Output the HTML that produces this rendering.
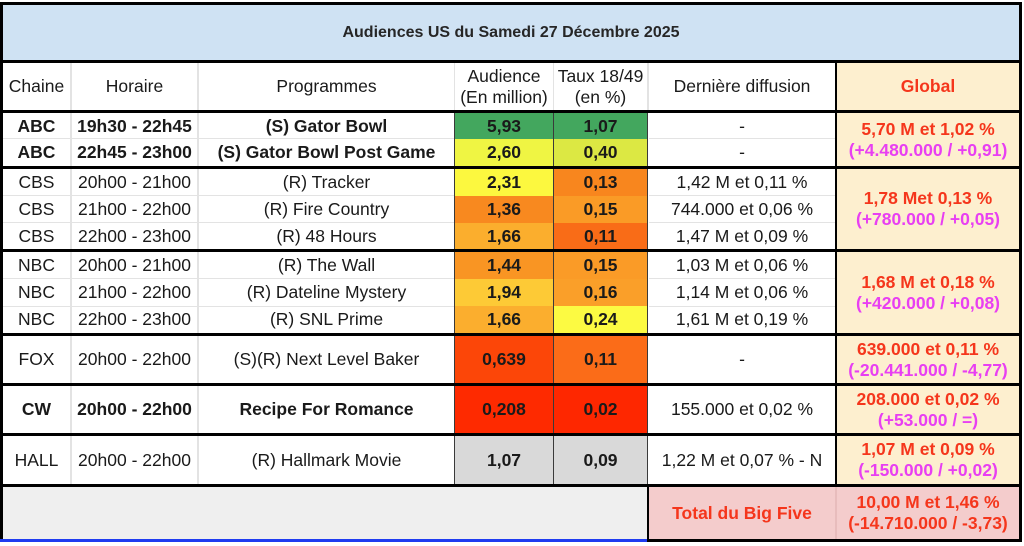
<!DOCTYPE html>
<html><head><meta charset="utf-8">
<style>
*{margin:0;padding:0;box-sizing:border-box}
html,body{width:1024px;height:546px;background:#fff;overflow:hidden}
body{position:relative;font-family:"Liberation Sans",Arial,sans-serif;font-size:17.5px;color:#1a1a1a}
.c{position:absolute;display:flex;align-items:center;justify-content:center;text-align:center;white-space:nowrap;line-height:21px;flex-direction:column}
.b{font-weight:bold}
.r{color:#f5361c;font-weight:bold}
.m{color:#e83ff2;font-weight:bold}
.l{position:absolute}
.k{background:#000}
.g{background:#e3e3e3}
.d{background:#3a3a3a}
</style></head><body>

<!-- backgrounds -->
<div class="l" style="left:3px;top:5px;width:1016px;height:55px;background:#cfe2f3"></div>
<div class="l" style="left:837px;top:63px;width:182px;height:421px;background:#fdefcf"></div>
<div class="l" style="left:3px;top:487px;width:644px;height:52px;background:#efefef"></div>
<div class="l" style="left:649px;top:487px;width:370px;height:52px;background:#f4cccc"></div>

<!-- colored audience / taux cells -->
<div class="l" style="left:455px;top:113px;width:99px;height:26px;background:#43a75e"></div>
<div class="l" style="left:554px;top:113px;width:94px;height:26px;background:#43a75e"></div>
<div class="l" style="left:455px;top:139px;width:99px;height:27px;background:#eff543"></div>
<div class="l" style="left:554px;top:139px;width:94px;height:27px;background:#dce843"></div>

<div class="l" style="left:455px;top:169px;width:99px;height:27px;background:#fcf83f"></div>
<div class="l" style="left:554px;top:169px;width:94px;height:27px;background:#f8861e"></div>
<div class="l" style="left:455px;top:196px;width:99px;height:27px;background:#f8891f"></div>
<div class="l" style="left:554px;top:196px;width:94px;height:27px;background:#fa9b26"></div>
<div class="l" style="left:455px;top:223px;width:99px;height:26px;background:#fbae2d"></div>
<div class="l" style="left:554px;top:223px;width:94px;height:26px;background:#f96c17"></div>

<div class="l" style="left:455px;top:252px;width:99px;height:27px;background:#f99523"></div>
<div class="l" style="left:554px;top:252px;width:94px;height:27px;background:#fa9b27"></div>
<div class="l" style="left:455px;top:279px;width:99px;height:27px;background:#fdca36"></div>
<div class="l" style="left:554px;top:279px;width:94px;height:27px;background:#fa9f29"></div>
<div class="l" style="left:455px;top:306px;width:99px;height:27px;background:#fbae2e"></div>
<div class="l" style="left:554px;top:306px;width:94px;height:27px;background:#fcfa42"></div>

<div class="l" style="left:455px;top:336px;width:99px;height:47px;background:#fc4608"></div>
<div class="l" style="left:554px;top:336px;width:94px;height:47px;background:#fb6c18"></div>
<div class="l" style="left:455px;top:386px;width:99px;height:47px;background:#fe2a00"></div>
<div class="l" style="left:554px;top:386px;width:94px;height:47px;background:#fe2700"></div>
<div class="l" style="left:455px;top:436px;width:99px;height:48px;background:#d9d9d9"></div>
<div class="l" style="left:554px;top:436px;width:94px;height:48px;background:#d9d9d9"></div>

<!-- light grid lines -->
<div class="l g" style="left:70px;top:63px;width:2px;height:421px"></div>
<div class="l g" style="left:197px;top:63px;width:2px;height:421px"></div>
<div class="l g" style="left:454px;top:63px;width:1px;height:47px"></div>
<div class="l g" style="left:553px;top:63px;width:1px;height:47px"></div>
<div class="l g" style="left:647px;top:63px;width:2px;height:47px"></div>
<!-- horizontal light lines -->
<div class="l g" style="left:3px;top:138px;width:451px;height:1px"></div>
<div class="l g" style="left:649px;top:138px;width:186px;height:1px"></div>
<div class="l g" style="left:3px;top:195px;width:451px;height:1px"></div>
<div class="l g" style="left:649px;top:195px;width:186px;height:1px"></div>
<div class="l g" style="left:3px;top:222px;width:451px;height:1px"></div>
<div class="l g" style="left:649px;top:222px;width:186px;height:1px"></div>
<div class="l g" style="left:3px;top:278px;width:451px;height:1px"></div>
<div class="l g" style="left:649px;top:278px;width:186px;height:1px"></div>
<div class="l g" style="left:3px;top:306px;width:451px;height:1px"></div>
<div class="l g" style="left:649px;top:306px;width:186px;height:1px"></div>
<div class="l" style="left:835px;top:487px;width:2px;height:52px;background:#e8bcbc"></div>

<!-- dark thin lines around colored cells -->
<div class="l d" style="left:454px;top:112px;width:1px;height:372px"></div>
<div class="l d" style="left:553px;top:112px;width:1px;height:372px"></div>
<div class="l d" style="left:647px;top:112px;width:1px;height:372px"></div>

<!-- thick black lines -->
<div class="l k" style="left:0;top:2px;width:1022px;height:3px"></div>
<div class="l k" style="left:0;top:2px;width:3px;height:537px"></div>
<div class="l k" style="left:1019px;top:2px;width:3px;height:540px"></div>
<div class="l k" style="left:0;top:60px;width:1022px;height:3px"></div>
<div class="l k" style="left:0;top:110px;width:1022px;height:3px"></div>
<div class="l k" style="left:0;top:166px;width:1022px;height:3px"></div>
<div class="l k" style="left:0;top:249px;width:1022px;height:3px"></div>
<div class="l k" style="left:0;top:333px;width:1022px;height:3px"></div>
<div class="l k" style="left:0;top:383px;width:1022px;height:3px"></div>
<div class="l k" style="left:0;top:433px;width:1022px;height:3px"></div>
<div class="l k" style="left:0;top:484px;width:1022px;height:3px"></div>
<div class="l k" style="left:835px;top:63px;width:2px;height:424px"></div>
<div class="l k" style="left:647px;top:484px;width:2px;height:58px"></div>
<div class="l k" style="left:647px;top:539px;width:375px;height:3px"></div>
<div class="l" style="left:0;top:539px;width:647px;height:3px;background:#1f3cf0"></div>

<!-- title -->
<div class="c b" style="left:3px;top:5px;width:1016px;height:55px;font-size:16px;color:#262626">Audiences US du Samedi 27 Décembre 2025</div>

<!-- header -->
<div class="c" style="left:3px;top:63px;width:67px;height:47px">Chaine</div>
<div class="c" style="left:72px;top:63px;width:125px;height:47px">Horaire</div>
<div class="c" style="left:199px;top:63px;width:255px;height:47px">Programmes</div>
<div class="c" style="left:455px;top:63px;width:98px;height:47px"><span>Audience</span><span>(En million)</span></div>
<div class="c" style="left:554px;top:63px;width:93px;height:47px"><span>Taux 18/49</span><span>(en %)</span></div>
<div class="c" style="left:649px;top:63px;width:186px;height:47px">Dernière diffusion</div>
<div class="c r" style="left:837px;top:63px;width:182px;height:47px">Global</div>

<!-- ABC -->
<div class="c b" style="left:3px;top:113px;width:67px;height:26px">ABC</div>
<div class="c b" style="left:72px;top:113px;width:125px;height:26px">19h30 - 22h45</div>
<div class="c b" style="left:199px;top:113px;width:255px;height:26px">(S) Gator Bowl</div>
<div class="c b" style="left:455px;top:113px;width:98px;height:26px">5,93</div>
<div class="c b" style="left:554px;top:113px;width:93px;height:26px">1,07</div>
<div class="c" style="left:649px;top:113px;width:186px;height:26px">-</div>

<div class="c b" style="left:3px;top:139px;width:67px;height:27px">ABC</div>
<div class="c b" style="left:72px;top:139px;width:125px;height:27px">22h45 - 23h00</div>
<div class="c b" style="left:199px;top:139px;width:255px;height:27px">(S) Gator Bowl Post Game</div>
<div class="c b" style="left:455px;top:139px;width:98px;height:27px">2,60</div>
<div class="c b" style="left:554px;top:139px;width:93px;height:27px">0,40</div>
<div class="c" style="left:649px;top:139px;width:186px;height:27px">-</div>

<div class="c" style="left:837px;top:113px;width:182px;height:53px"><span class="r">5,70 M et 1,02 %</span><span class="m">(+4.480.000 / +0,91)</span></div>

<!-- CBS -->
<div class="c" style="left:3px;top:169px;width:67px;height:27px">CBS</div>
<div class="c" style="left:72px;top:169px;width:125px;height:27px">20h00 - 21h00</div>
<div class="c" style="left:199px;top:169px;width:255px;height:27px">(R) Tracker</div>
<div class="c b" style="left:455px;top:169px;width:98px;height:27px">2,31</div>
<div class="c b" style="left:554px;top:169px;width:93px;height:27px">0,13</div>
<div class="c" style="left:649px;top:169px;width:186px;height:27px">1,42 M et 0,11 %</div>

<div class="c" style="left:3px;top:196px;width:67px;height:27px">CBS</div>
<div class="c" style="left:72px;top:196px;width:125px;height:27px">21h00 - 22h00</div>
<div class="c" style="left:199px;top:196px;width:255px;height:27px">(R) Fire Country</div>
<div class="c b" style="left:455px;top:196px;width:98px;height:27px">1,36</div>
<div class="c b" style="left:554px;top:196px;width:93px;height:27px">0,15</div>
<div class="c" style="left:649px;top:196px;width:186px;height:27px">744.000 et 0,06 %</div>

<div class="c" style="left:3px;top:223px;width:67px;height:26px">CBS</div>
<div class="c" style="left:72px;top:223px;width:125px;height:26px">22h00 - 23h00</div>
<div class="c" style="left:199px;top:223px;width:255px;height:26px">(R) 48 Hours</div>
<div class="c b" style="left:455px;top:223px;width:98px;height:26px">1,66</div>
<div class="c b" style="left:554px;top:223px;width:93px;height:26px">0,11</div>
<div class="c" style="left:649px;top:223px;width:186px;height:26px">1,47 M et 0,09 %</div>

<div class="c" style="left:837px;top:169px;width:182px;height:80px"><span class="r">1,78 Met 0,13 %</span><span class="m">(+780.000 / +0,05)</span></div>

<!-- NBC -->
<div class="c" style="left:3px;top:252px;width:67px;height:27px">NBC</div>
<div class="c" style="left:72px;top:252px;width:125px;height:27px">20h00 - 21h00</div>
<div class="c" style="left:199px;top:252px;width:255px;height:27px">(R) The Wall</div>
<div class="c b" style="left:455px;top:252px;width:98px;height:27px">1,44</div>
<div class="c b" style="left:554px;top:252px;width:93px;height:27px">0,15</div>
<div class="c" style="left:649px;top:252px;width:186px;height:27px">1,03 M et 0,06 %</div>

<div class="c" style="left:3px;top:279px;width:67px;height:27px">NBC</div>
<div class="c" style="left:72px;top:279px;width:125px;height:27px">21h00 - 22h00</div>
<div class="c" style="left:199px;top:279px;width:255px;height:27px">(R) Dateline Mystery</div>
<div class="c b" style="left:455px;top:279px;width:98px;height:27px">1,94</div>
<div class="c b" style="left:554px;top:279px;width:93px;height:27px">0,16</div>
<div class="c" style="left:649px;top:279px;width:186px;height:27px">1,14 M et 0,06 %</div>

<div class="c" style="left:3px;top:306px;width:67px;height:27px">NBC</div>
<div class="c" style="left:72px;top:306px;width:125px;height:27px">22h00 - 23h00</div>
<div class="c" style="left:199px;top:306px;width:255px;height:27px">(R) SNL Prime</div>
<div class="c b" style="left:455px;top:306px;width:98px;height:27px">1,66</div>
<div class="c b" style="left:554px;top:306px;width:93px;height:27px">0,24</div>
<div class="c" style="left:649px;top:306px;width:186px;height:27px">1,61 M et 0,19 %</div>

<div class="c" style="left:837px;top:252px;width:182px;height:81px"><span class="r">1,68 M et 0,18 %</span><span class="m">(+420.000 / +0,08)</span></div>

<!-- FOX -->
<div class="c" style="left:3px;top:336px;width:67px;height:47px">FOX</div>
<div class="c" style="left:72px;top:336px;width:125px;height:47px">20h00 - 22h00</div>
<div class="c" style="left:199px;top:336px;width:255px;height:47px">(S)(R) Next Level Baker</div>
<div class="c b" style="left:455px;top:336px;width:98px;height:47px">0,639</div>
<div class="c b" style="left:554px;top:336px;width:93px;height:47px">0,11</div>
<div class="c" style="left:649px;top:336px;width:186px;height:47px">-</div>
<div class="c" style="left:837px;top:336px;width:182px;height:47px"><span class="r">639.000 et 0,11 %</span><span class="m">(-20.441.000 / -4,77)</span></div>

<!-- CW -->
<div class="c b" style="left:3px;top:386px;width:67px;height:47px">CW</div>
<div class="c b" style="left:72px;top:386px;width:125px;height:47px">20h00 - 22h00</div>
<div class="c b" style="left:199px;top:386px;width:255px;height:47px">Recipe For Romance</div>
<div class="c b" style="left:455px;top:386px;width:98px;height:47px">0,208</div>
<div class="c b" style="left:554px;top:386px;width:93px;height:47px">0,02</div>
<div class="c" style="left:649px;top:386px;width:186px;height:47px">155.000 et 0,02 %</div>
<div class="c" style="left:837px;top:386px;width:182px;height:47px"><span class="r">208.000 et 0,02 %</span><span class="m">(+53.000 / =)</span></div>

<!-- HALL -->
<div class="c" style="left:3px;top:436px;width:67px;height:48px">HALL</div>
<div class="c" style="left:72px;top:436px;width:125px;height:48px">20h00 - 22h00</div>
<div class="c" style="left:199px;top:436px;width:255px;height:48px">(R) Hallmark Movie</div>
<div class="c b" style="left:455px;top:436px;width:98px;height:48px">1,07</div>
<div class="c b" style="left:554px;top:436px;width:93px;height:48px">0,09</div>
<div class="c" style="left:649px;top:436px;width:186px;height:48px">1,22 M et 0,07 % - N</div>
<div class="c" style="left:837px;top:436px;width:182px;height:48px"><span class="r">1,07 M et 0,09 %</span><span class="m">(-150.000 / +0,02)</span></div>

<!-- Total -->
<div class="c r" style="left:649px;top:487px;width:186px;height:52px">Total du Big Five</div>
<div class="c" style="left:837px;top:487px;width:182px;height:52px"><span class="r">10,00 M et 1,46 %</span><span class="r">(-14.710.000 / -3,73)</span></div>

</body></html>
